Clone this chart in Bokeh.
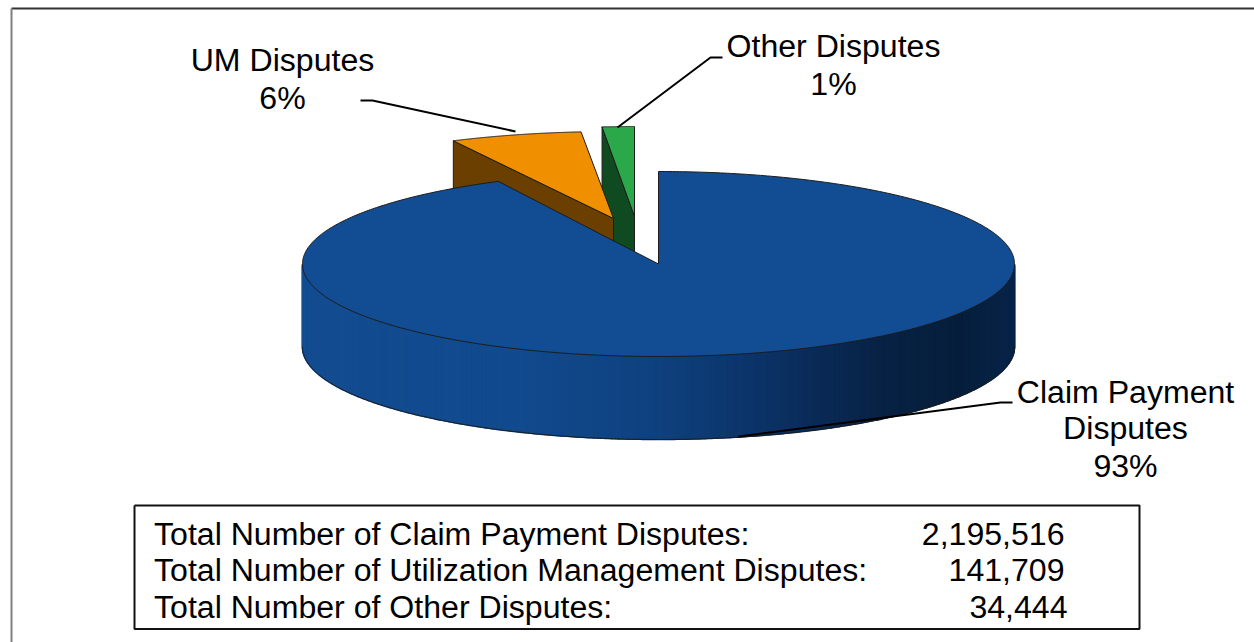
import numpy as np
from bokeh.plotting import figure
from bokeh.embed import file_html
from bokeh.resources import INLINE
from bokeh.core.properties import value

categories = ["Claim Payment Disputes", "UM Disputes", "Other Disputes"]
counts = [2195516, 141709, 34444]
count_labels = ["2,195,516", "141,709", "34,444"]
table_labels = ["Total Number of Claim Payment Disputes:",
                "Total Number of Utilization Management Disputes:",
                "Total Number of Other Disputes:"]
top_colors = ["#124c92", "#f09000", "#2aa84a"]
wall_colors = ["#124c92", "#6a3f00", "#0f4a20"]

W, H = 1254, 642
FONT = value("Liberation Sans")
p = figure(width=W, height=H, x_range=(0, W), y_range=(H, 0),
           output_backend="svg", toolbar_location=None, min_border=0,
           outline_line_color=None, background_fill_color="white")
p.axis.visible = False
p.grid.visible = False

# chart-area border (top and left only)
p.line([11, W], [8, 8], line_color="#333333", line_width=2)
p.line([11, 11], [8, H], line_color="#808080", line_width=2)

# geometry of the 3D pie: apex, radii, depth
apex = [(658, 263.5), (613, 218), (634, 216)]
rx = [356, 356, 356]
ry = [92.5, 87, 90]
depth = 83
total = sum(counts)
edges = np.cumsum([0] + counts) / total * 2 * np.pi

def rim(i, a):
    return apex[i][0] + rx[i] * np.sin(a), apex[i][1] - ry[i] * np.cos(a)

def sector(i, n=200):
    a = np.linspace(edges[i], edges[i + 1], n)
    x, y = rim(i, a)
    return [apex[i][0]] + list(x), [apex[i][1]] + list(y)

OUT = "#1c1c1c"
for i in (2, 1):
    sx, sy = rim(i, edges[i])
    ax, ay = apex[i]
    p.patch([ax, sx, sx, ax], [ay, sy, sy + depth, ay + depth],
            fill_color=wall_colors[i], line_color=OUT, line_width=1)
    x, y = sector(i)
    p.patch(x, y, fill_color=top_colors[i], line_color=OUT, line_width=1)

# big slice: outer wall with a shaded gradient
stops_t = [0.0, 0.3, 0.5, 0.65, 0.8, 0.92, 1.0]
stops_c = [(0x13, 0x4c, 0x90), (0x12, 0x4a, 0x8e), (0x0f, 0x41, 0x7e), (0x0c, 0x32, 0x66),
           (0x08, 0x23, 0x46), (0x06, 0x1e, 0x3b), (0x07, 0x24, 0x48)]
cx, cy = apex[0]
ang = np.linspace(np.pi / 2, 3 * np.pi / 2, 361)
for a0, a1 in zip(ang[:-1], ang[1:]):
    x0, y0 = rim(0, a0)
    x1, y1 = rim(0, a1)
    t = (0.5 * (x0 + x1) - (cx - rx[0])) / (2 * rx[0])
    rgb = [int(round(np.interp(t, stops_t, [c[k] for c in stops_c]))) for k in range(3)]
    col = "#%02x%02x%02x" % tuple(rgb)
    p.patch([x0, x1, x1, x0], [y0, y1, y1 + depth, y0 + depth],
            fill_color=col, line_color=col, line_width=1.5)
wx, wy = rim(0, ang)
p.line(list(wx), list(wy + depth), line_color=OUT, line_width=1)
x, y = sector(0, 600)
p.patch(x, y, fill_color=top_colors[0], line_color=OUT, line_width=1)

# leader lines
p.line([360, 372, 515], [100, 100, 131], line_color="black", line_width=2)
p.line([722, 710, 617], [57, 57, 127], line_color="black", line_width=2)
p.line([1012, 1000, 738], [402, 402, 436], line_color="black", line_width=2)

# slice labels
pct = [f"{round(c / total * 100)}%" for c in counts]
def label(x, y, s):
    p.text([x], [y], text=[s], text_font=FONT, text_font_size="32.1px", text_color="black",
           text_align="center", text_baseline="middle")
label(282, 59, "UM Disputes"); label(282, 97, pct[1])
label(833, 45, "Other Disputes"); label(833, 83, pct[2])
label(1125, 391, "Claim Payment"); label(1125, 427, "Disputes"); label(1125, 465, pct[0])

# totals box
p.line([134, 1139, 1139, 134, 134], [505, 505, 628.5, 628.5, 505], line_color="#111111", line_width=2)
for lab, num, yc, xr in zip(table_labels, count_labels, [533, 569, 606], [1064, 1064, 1067]):
    p.text([153.5], [yc], text=[lab], text_font=FONT, text_font_size="32.1px", text_color="black",
           text_align="left", text_baseline="middle")
    p.text([xr], [yc], text=[num], text_font=FONT, text_font_size="32.1px", text_color="black",
           text_align="right", text_baseline="middle")

open("out.html", "w").write(file_html(p, INLINE))
